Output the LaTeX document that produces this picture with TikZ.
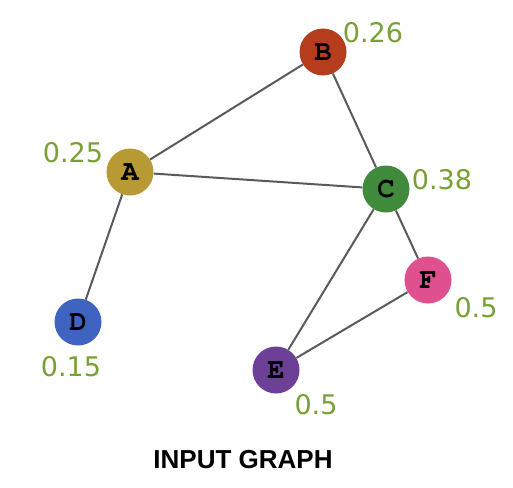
\documentclass[tikz,border=0pt]{standalone}
\usepackage[T1]{fontenc}
\usepackage{fontspec}
\setmainfont{DejaVu Sans}
\newfontfamily\titlefont{Liberation Sans}
\newcommand\letterfont{\fontencoding{T1}\fontfamily{pcr}\fontseries{b}\fontsize{29}{29}\selectfont}
\usetikzlibrary{positioning,backgrounds}
\definecolor{colA}{HTML}{B89A35}
\definecolor{colB}{HTML}{B63C1E}
\definecolor{colC}{HTML}{408A3B}
\definecolor{colD}{HTML}{3F63C0}
\definecolor{colE}{HTML}{6D4098}
\definecolor{colF}{HTML}{E0508F}
\definecolor{numgreen}{HTML}{78A034}
\definecolor{edgegray}{HTML}{5A5A5A}
\tikzset{
  vertex/.style={circle, fill=#1, minimum size=47pt, inner sep=0pt,
    font=\letterfont},
  score/.style={text=numgreen, inner sep=0pt, font=\fontsize{27}{27}\selectfont},
  link/.style={draw=edgegray, line width=2pt}
}

\begin{document}
\begin{tikzpicture}[x=1pt, y=-1pt]
    \useasboundingbox (0,0) rectangle (513,487);
    % vertices
    \node[vertex=colA] (A) at (130,172) {A};
    \node[vertex=colB] (B) at (323,52) {B};
    \node[vertex=colC] (C) at (386,189) {C};
    \node[vertex=colD] (D) at (78,322) {D};
    \node[vertex=colE] (E) at (276,370) {E};
    \node[vertex=colF] (F) at (428,280) {F};
    % edges
    \begin{pgfonlayer}{background}
    \foreach \u/\v in {A/B, A/C, B/C, A/D, C/E, C/F, E/F}
      \draw[link] (\u) -- (\v);
    \end{pgfonlayer}
    % scores
    \node[score] (sA) at (73,153) {0.25};
    \node[score] (sB) at (373,33) {0.26};
    \node[score] (sC) at (442,180) {0.38};
    \node[score] (sD) at (71,367) {0.15};
    \node[score] (sE) at (316,405) {0.5};
    \node[score] (sF) at (476,308) {0.5};
    % title
    \node[font=\titlefont\bfseries\fontsize{26}{26}\selectfont] (title) at (243,460) {INPUT GRAPH};
\end{tikzpicture}
\end{document}
